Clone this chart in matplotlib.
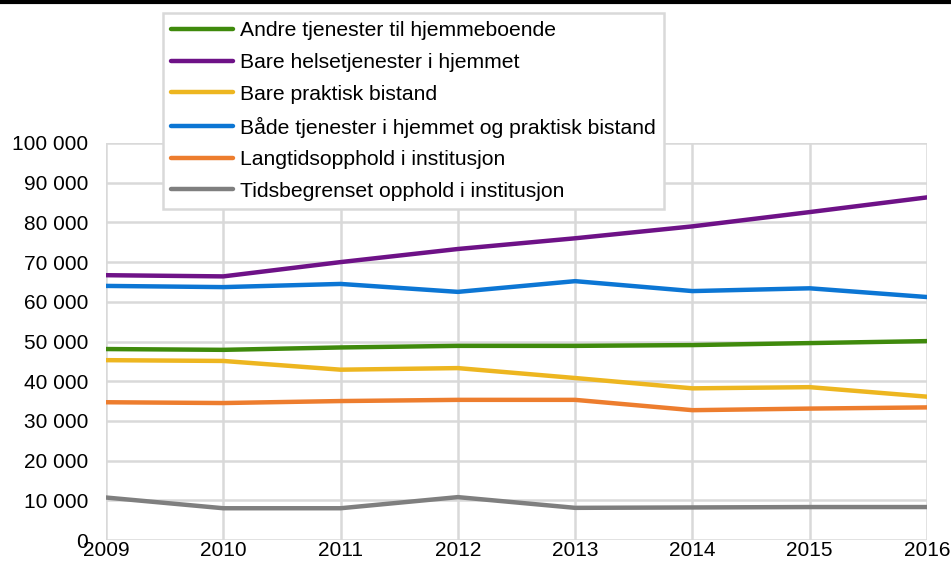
import matplotlib.pyplot as plt
from matplotlib.ticker import FuncFormatter

years = [2009, 2010, 2011, 2012, 2013, 2014, 2015, 2016]

andre = [48100, 47900, 48500, 48900, 48900, 49100, 49600, 50100]
helse = [66700, 66400, 70000, 73300, 76000, 79000, 82600, 86300]
praktisk = [45300, 45100, 42900, 43300, 40800, 38200, 38500, 36100]
begge = [64000, 63700, 64500, 62500, 65200, 62700, 63400, 61200]
langtid = [34700, 34500, 35000, 35300, 35300, 32700, 33100, 33400]
tidsbeg = [10700, 8000, 8000, 10800, 8100, 8200, 8300, 8300]

labels = ["Andre tjenester til hjemmeboende",
          "Bare helsetjenester i hjemmet",
          "Bare praktisk bistand",
          "Både tjenester i hjemmet og praktisk bistand",
          "Langtidsopphold i institusjon",
          "Tidsbegrenset opphold i institusjon"]
colors = ["#3F8A0C", "#6E1287", "#EDB620", "#0C76D4", "#ED7D2E", "#7F7F7F"]

plt.rcParams['font.family'] = ['Liberation Sans', 'DejaVu Sans']

fig = plt.figure(figsize=(9.51, 5.66), dpi=100)
ax = fig.add_axes([106/951, 1 - 540/566, 821/951, 397/566])

series = [andre, helse, praktisk, begge, langtid, tidsbeg]
for vals, lab, col in zip(series, labels, colors):
    ax.plot(years, vals, color=col, lw=3.2, label=lab, solid_capstyle='round', zorder=3)

ax.set_xlim(2009, 2016)
ax.set_ylim(0, 100000)
ax.set_yticks(range(0, 100001, 10000))
ax.set_xticks(years)
ax.yaxis.set_major_formatter(FuncFormatter(lambda v, p: f"{int(v):,}".replace(",", " ")))
ax.grid(True, color="#d9d9d9", lw=1.8)
ax.set_axisbelow(True)
for s in ax.spines.values():
    s.set_visible(False)
ax.tick_params(length=0, labelsize=15, colors="black")
ax.tick_params(axis='y', pad=13)
ax.tick_params(axis='x', pad=1)

# black bar along the top edge
fig.add_artist(plt.Line2D([0, 1], [1 - 1.5/566, 1 - 1.5/566], color="black", lw=3, transform=fig.transFigure))

leg = fig.legend(loc='upper left', bbox_to_anchor=(163/951, 1 - 13/566),
                 fontsize=15.2, handlelength=2.9, handletextpad=0.35,
                 labelspacing=0.6, borderpad=0.4, borderaxespad=0,
                 fancybox=False, framealpha=1, edgecolor="#d9d9d9")
leg.get_frame().set_linewidth(1.8)

fig.savefig("out.png", dpi=100)
